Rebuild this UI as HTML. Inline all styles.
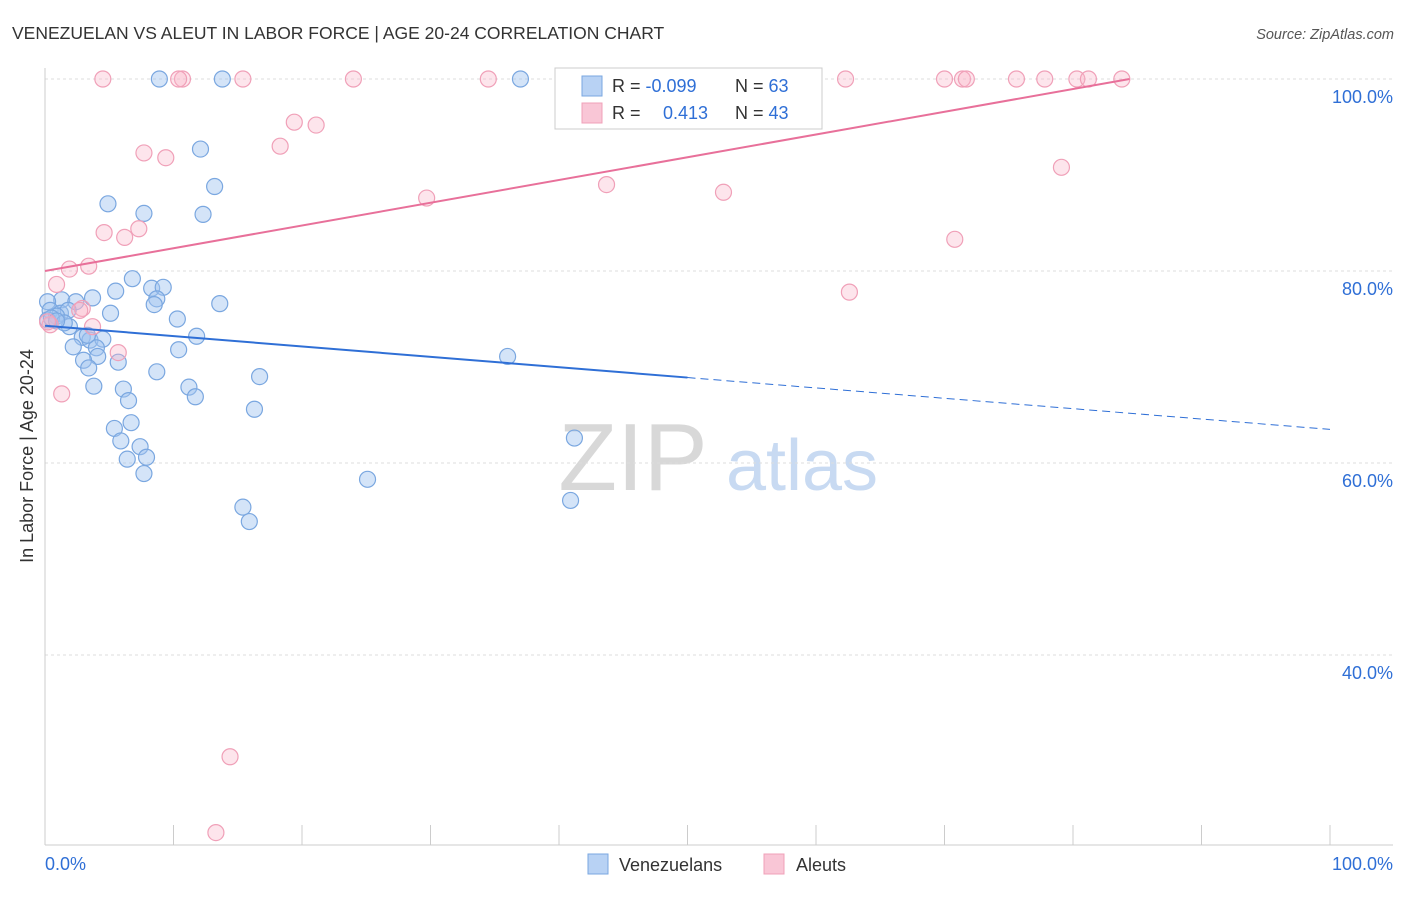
<!DOCTYPE html>
<html><head><meta charset="utf-8"><style>
body{margin:0;background:#fff;font-family:"Liberation Sans",sans-serif;}
svg text{font-family:"Liberation Sans",sans-serif;}
</style></head><body>
<svg id="chart" width="1406" height="892" xmlns="http://www.w3.org/2000/svg">
<text x="12" y="39" font-size="17.5" fill="#333">VENEZUELAN VS ALEUT IN LABOR FORCE | AGE 20-24 CORRELATION CHART</text>
<text x="1394" y="39" font-size="14.5" fill="#555" font-style="italic" text-anchor="end">Source: ZipAtlas.com</text>
<g>
<text x="633" y="490" font-size="96" fill="#d8d8d8" font-family="Liberation Serif,serif" text-anchor="middle">ZIP</text>
<text x="802" y="490" font-size="72" fill="#c8daf2" text-anchor="middle">atlas</text>
</g>
<g id="grid"></g>
<g id="axes"></g>
<g id="pts"></g>
<g id="lines"></g>
<g>
<rect x="555" y="68" width="267" height="61" fill="#fff" stroke="#ccc"/>
<rect x="582" y="76" width="20" height="20" fill="#b8d2f4" stroke="#7aa7e0"/>
<rect x="582" y="103" width="20" height="20" fill="#f9c6d6" stroke="#f0a0b8"/>
<text x="612" y="92" font-size="18" fill="#333">R = <tspan fill="#2f6fd6">-0.099</tspan><tspan x="735">N = </tspan><tspan fill="#2f6fd6">63</tspan></text>
<text x="612" y="119" font-size="18" fill="#333">R = <tspan x="663" fill="#2f6fd6">0.413</tspan><tspan x="735">N = </tspan><tspan fill="#2f6fd6">43</tspan></text>
</g>
<g>
<rect x="588" y="854" width="20" height="20" fill="#b8d2f4" stroke="#7aa7e0"/>
<text x="619" y="871" font-size="18" fill="#333">Venezuelans</text>
<rect x="764" y="854" width="20" height="20" fill="#f9c6d6" stroke="#f0a0b8"/>
<text x="796" y="871" font-size="18" fill="#333">Aleuts</text>
</g>
</svg>
<script>
const yTicks=[100,80,60,40];
const yTickLabels=["100.0%","80.0%","60.0%","40.0%"];
const xTicks=[0,10,20,30,40,50,60,70,80,90,100];
const blueX=[8.9,13.8,37.0,12.1,13.2,4.9,7.7,12.3,6.8,5.5,8.3,9.2,3.7,8.7,8.5,13.6,1.3,2.4,0.2,0.4,1.2,1.8,0.9,5.1,10.3,1.9,2.9,11.8,3.5,4.5,2.2,4.0,10.4,4.1,5.7,3.0,3.4,16.7,8.7,36.0,3.8,11.2,6.1,11.7,6.5,16.3,6.7,5.4,5.9,7.4,6.4,7.9,7.7,41.2,25.1,15.4,15.9,40.9,0.2,0.5,3.3,1.5,0.9];
const blueY=[100,100,100,92.7,88.8,87.0,86.0,85.9,79.2,77.9,78.2,78.3,77.2,77.1,76.5,76.6,77.0,76.8,76.8,75.9,75.6,75.9,75.3,75.6,75.0,74.2,73.1,73.2,72.8,72.9,72.1,72.0,71.8,71.1,70.5,70.7,69.9,69.0,69.5,71.1,68.0,67.9,67.7,66.9,66.5,65.6,64.2,63.6,62.3,61.7,60.4,60.6,58.9,62.6,58.3,55.4,53.9,56.1,74.9,75.1,73.3,74.6,74.8];
const pinkX=[4.5,10.7,10.4,15.4,24.0,34.5,47.2,55.6,62.3,70.0,71.4,71.7,75.6,77.8,80.3,81.2,83.8,19.4,21.1,18.3,7.7,9.4,29.7,43.7,52.8,79.1,70.8,4.6,7.3,6.2,3.4,1.9,0.9,62.6,2.9,2.7,3.7,0.4,5.7,1.3,14.4,13.3,0.2];
const pinkY=[100,100,100,100,100,100,100,100,100,100,100,100,100,100,100,100,100,95.5,95.2,93.0,92.3,91.8,87.6,89.0,88.2,90.8,83.3,84.0,84.4,83.5,80.5,80.2,78.6,77.8,76.1,75.9,74.2,74.4,71.5,67.2,29.4,21.5,74.7];
const blueTrend=[74.3,63.5]; // y at x=0 and x=100
const pinkTrend=[80.0,100.0,84.4]; // y at 0, y at end, end x
const NS="http://www.w3.org/2000/svg";
const sx=v=>45+v*12.85, sy=v=>1039-v*9.6;
function mk(t,a,p){const e=document.createElementNS(NS,t);for(const k in a)e.setAttribute(k,a[k]);p.appendChild(e);return e;}
const grid=document.getElementById('grid'),axes=document.getElementById('axes'),pts=document.getElementById('pts'),lines=document.getElementById('lines');
yTicks.forEach((t,i)=>{
 const l=mk('line',{x1:45,x2:1393,y1:sy(t),y2:sy(t),stroke:'#ddd','stroke-dasharray':'3,3'},grid);
 
 
 const tx=mk('text',{x:1393,y:sy(t)+24,'font-size':18,fill:'#2f6fd6','text-anchor':'end'},grid);
 tx.textContent=yTickLabels[i];
 
 
});
mk('line',{x1:45,x2:45,y1:68,y2:845,stroke:'#ccc'},axes);
mk('line',{x1:45,x2:1393,y1:845,y2:845,stroke:'#ccc'},axes);
xTicks.forEach(t=>{const l=mk('line',{x1:sx(t),x2:sx(t),y1:825,y2:845,stroke:'#ccc'},axes);
 
 });
let a=mk('text',{x:45,y:870,'font-size':18,fill:'#2f6fd6'},axes);a.textContent='0.0%';


a=mk('text',{x:1393,y:870,'font-size':18,fill:'#2f6fd6','text-anchor':'end'},axes);a.textContent='100.0%';


a=mk('text',{x:33,y:456,'font-size':18,fill:'#333','text-anchor':'middle',transform:'rotate(-90 33 456)'},axes);a.textContent='In Labor Force | Age 20-24';


blueX.forEach((x,i)=>{const c=mk('circle',{cx:sx(x),cy:sy(blueY[i]),r:8,fill:'rgba(160,195,240,0.45)',stroke:'#7aa7e0','stroke-width':1.2},pts);
 
 });
pinkX.forEach((x,i)=>{const c=mk('circle',{cx:sx(x),cy:sy(pinkY[i]),r:8,fill:'rgba(248,180,200,0.35)',stroke:'#f0a0b8','stroke-width':1.2},pts);
 
 });
const by=x=>blueTrend[0]+(blueTrend[1]-blueTrend[0])*x/100;
let l=mk('line',{x1:sx(0),y1:sy(by(0)),x2:sx(50),y2:sy(by(50)),stroke:'#2f6fd6','stroke-width':2},lines);


l=mk('line',{x1:sx(50),y1:sy(by(50)),x2:sx(100),y2:sy(by(100)),stroke:'#2f6fd6','stroke-width':1,'stroke-dasharray':'8,5'},lines);


l=mk('line',{x1:sx(0),y1:sy(pinkTrend[0]),x2:sx(pinkTrend[2]),y2:sy(pinkTrend[1]),stroke:'#e8709a','stroke-width':2},lines);


</script>
</body></html>
